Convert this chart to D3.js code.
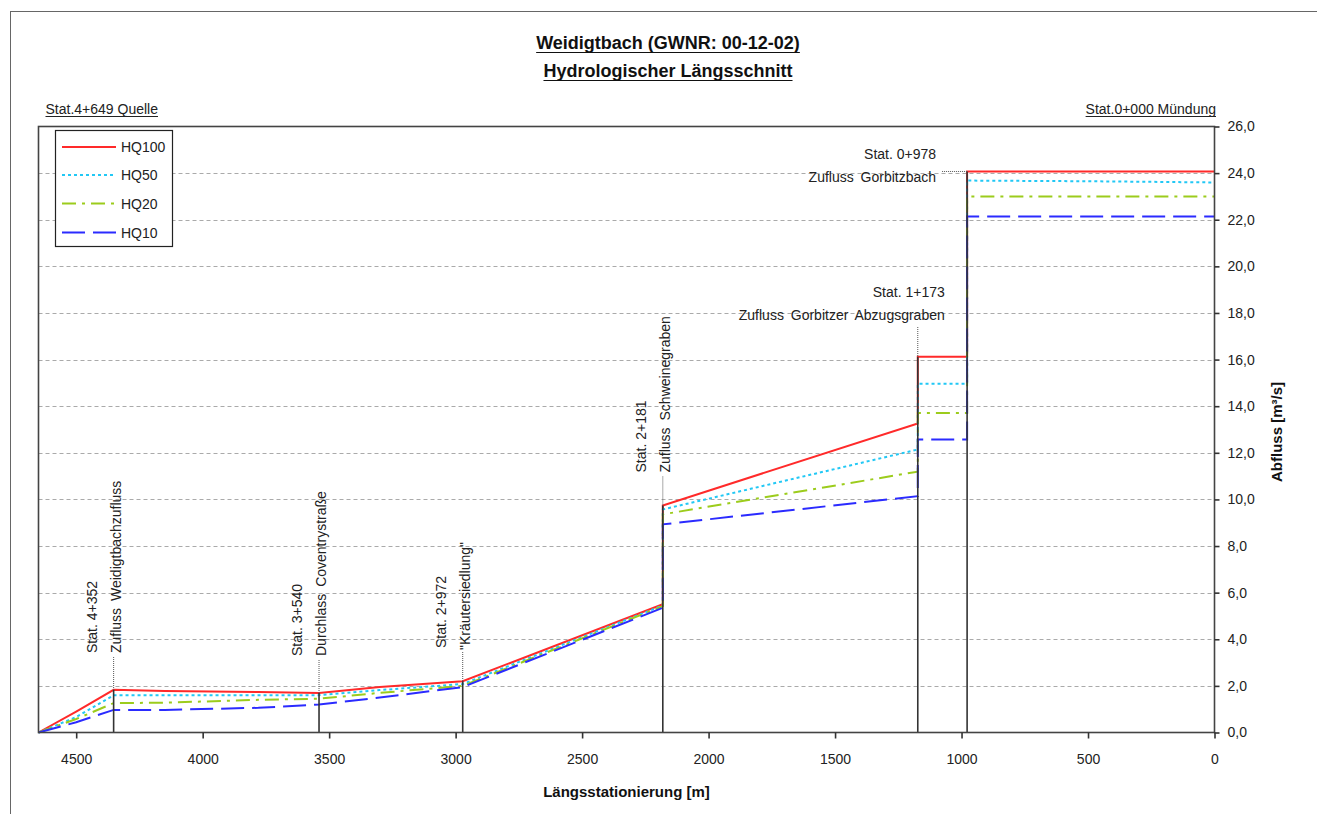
<!DOCTYPE html>
<html>
<head>
<meta charset="utf-8">
<script src="https://cdn.jsdelivr.net/npm/d3@7"></script>
<style>
  html, body { margin: 0; padding: 0; background: #fff; }
  svg { display: block; font-family: "Liberation Sans", Arial, sans-serif; }
</style>
</head>
<body>
<svg id="chart" width="1317" height="814"></svg>
<script>
// ---------------- data ----------------
const titleLines = ["Weidigtbach (GWNR: 00-12-02)", "Hydrologischer Längsschnitt"];
const sourceLabel = "Stat.4+649 Quelle";
const mouthLabel = "Stat.0+000 Mündung";
const xTitle = "Längsstationierung [m]";
const yTitle = "Abfluss [m³/s]";

const stationDomain = [4649, 0];
const flowDomain = [0, 26];
const xTicks = [4500, 4000, 3500, 3000, 2500, 2000, 1500, 1000, 500, 0];
const yTicks = [0, 2, 4, 6, 8, 10, 12, 14, 16, 18, 20, 22, 24, 26];

const stations = [4649, 4500, 4352, 4150, 3780, 3540, 3300, 2972, 2181, 2181, 1173, 1173, 978, 978, 490, 0];
const hq100 = [0, 0.90, 1.83, 1.78, 1.74, 1.70, 1.95, 2.20, 5.50, 9.74, 13.26, 16.12, 16.12, 24.07, 24.07, 24.07];
const hq50  = [0, 0.66, 1.60, 1.60, 1.60, 1.60, 1.82, 2.08, 5.45, 9.57, 12.14, 14.96, 14.96, 23.68, 23.65, 23.60];
const hq20  = [0, 0.58, 1.26, 1.28, 1.40, 1.45, 1.70, 2.00, 5.42, 9.36, 11.19, 13.71, 13.71, 23.00, 23.00, 23.00];
const hq10  = [0, 0.44, 0.97, 0.97, 1.06, 1.20, 1.50, 1.95, 5.35, 8.93, 10.14, 12.57, 12.57, 22.14, 22.14, 22.14];

const seriesNames = ["HQ100", "HQ50", "HQ20", "HQ10"];
const seriesValues = [hq100, hq50, hq20, hq10];

// tributaries / landmarks
const markerStations = [4352, 3540, 2972, 2181, 1173, 978];
const markerStatLabels = ["Stat. 4+352", "Stat. 3+540", "Stat. 2+972", "Stat. 2+181", "Stat. 1+173", "Stat. 0+978"];
const markerNameLabels = ["Zufluss Weidigtbachzufluss", "Durchlass Coventrystraße", "\"Kräutersiedlung\"", "Zufluss Schweinegraben", "Zufluss Gorbitzer Abzugsgraben", "Zufluss Gorbitzbach"];

// ---------------- styles ----------------
const seriesStyles = [
  { color: "#ff2a2a", dash: null },
  { color: "#22c8f5", dash: "3,3" },
  { color: "#9ccc1c", dash: "14,6,3,6" },
  { color: "#2b2bff", dash: "23,8" }
];

const svg = d3.select("#chart");
const W = 1317, H = 814;
const plot = { left: 38.5, right: 1214.5, top: 126.5, bottom: 732.5 };

const x = d3.scaleLinear().domain(stationDomain).range([plot.left, plot.right]);
const y = d3.scaleLinear().domain(flowDomain).range([plot.bottom, plot.top]);

// outer frame
svg.append("rect").attr("x", 10.5).attr("y", 11.5).attr("width", 1400).attr("height", 900)
  .attr("fill", "#fff").attr("stroke", "#666").attr("stroke-width", 1);

// titles
function underlined(textSel, gap) {
  const node = textSel.node();
  const bb = node.getBBox();
  const len = node.getComputedTextLength();
  const anchor = textSel.attr("text-anchor") || "start";
  const tx = +textSel.attr("x"), ty = +textSel.attr("y");
  let x0 = tx;
  if (anchor === "middle") x0 = tx - len / 2;
  if (anchor === "end") x0 = tx - len;
  svg.append("line").attr("x1", x0).attr("x2", x0 + len)
    .attr("y1", ty + gap).attr("y2", ty + gap)
    .attr("stroke", textSel.attr("fill") || "#000").attr("stroke-width", 1.2);
}
const t1 = svg.append("text").attr("x", 668).attr("y", 49).attr("text-anchor", "middle")
  .attr("font-size", 18).attr("font-weight", "bold").attr("fill", "#111").text(titleLines[0]);
underlined(t1, 3.5);
const t2 = svg.append("text").attr("x", 668).attr("y", 77).attr("text-anchor", "middle")
  .attr("font-size", 18).attr("font-weight", "bold").attr("fill", "#111").text(titleLines[1]);
underlined(t2, 3.5);

const s1 = svg.append("text").attr("x", 45.5).attr("y", 113.5).attr("font-size", 14)
  .attr("fill", "#222").text(sourceLabel);
underlined(s1, 3);
const s2 = svg.append("text").attr("x", 1216).attr("y", 113.5).attr("font-size", 14)
  .attr("text-anchor", "end").attr("fill", "#222").text(mouthLabel);
underlined(s2, 3);

// gridlines
svg.append("g").selectAll("line").data(yTicks.filter(v => v > flowDomain[0] && v < flowDomain[1]))
  .join("line")
  .attr("x1", plot.left).attr("x2", plot.right)
  .attr("y1", d => Math.round(y(d)) + 0.5).attr("y2", d => Math.round(y(d)) + 0.5)
  .attr("stroke", "#aaa").attr("stroke-width", 1).attr("stroke-dasharray", "4,3");

// series
const line = d3.line().x(d => x(d[0])).y(d => y(d[1]));
seriesValues.forEach((vals, i) => {
  const pts = stations.map((s, k) => [s, vals[k]]);
  svg.append("path").datum(pts).attr("d", line)
    .attr("fill", "none").attr("stroke", seriesStyles[i].color)
    .attr("stroke-width", 2)
    .attr("stroke-dasharray", seriesStyles[i].dash);
});

// vertical marker lines (from 0 to highest discharge at that station)
function topAt(st) {
  let m = 0;
  stations.forEach((s, k) => { if (s === st) m = Math.max(m, hq100[k]); });
  return m;
}
const markerG = svg.append("g");
markerStations.forEach(st => {
  markerG.append("line").attr("x1", x(st)).attr("x2", x(st))
    .attr("y1", y(0)).attr("y2", y(topAt(st)))
    .attr("stroke", "#333").attr("stroke-width", 1.6);
});

// rotated annotations for the first four markers
const rotBottom = [653, 656, 648, 472.5];
const annoFont = 14;
for (let i = 0; i < 4; i++) {
  const st = markerStations[i];
  const lx = x(st);
  const statX = lx - 22, nameX = lx + 2;
  svg.append("text").attr("font-size", annoFont).attr("fill", "#222")
    .attr("transform", `translate(${statX},${rotBottom[i]}) rotate(-90)`)
    .attr("dy", "0.36em").text(markerStatLabels[i]);
  svg.append("text").attr("font-size", annoFont).attr("fill", "#222").attr("word-spacing", 3)
    .attr("transform", `translate(${nameX},${rotBottom[i] + (i === 2 ? 2 : 0)}) rotate(-90)`)
    .attr("dy", "0.36em").text(markerNameLabels[i]);
  svg.append("line").attr("x1", lx).attr("x2", lx)
    .attr("y1", rotBottom[i] + 4).attr("y2", y(topAt(st)))
    .attr("stroke", "#555").attr("stroke-width", 1).attr("stroke-dasharray", "1,1");
}

// Stat. 1+173
{
  const st = markerStations[4];
  const lx = x(st);
  svg.append("text").attr("x", lx + 27).attr("y", 291.5).attr("dy", "0.36em")
    .attr("text-anchor", "end").attr("font-size", annoFont).attr("fill", "#222").text(markerStatLabels[4]);
  svg.append("text").attr("x", lx + 27).attr("y", 315).attr("dy", "0.36em").attr("word-spacing", 3)
    .attr("text-anchor", "end").attr("font-size", annoFont).attr("fill", "#222").text(markerNameLabels[4]);
  svg.append("line").attr("x1", lx).attr("x2", lx).attr("y1", 327).attr("y2", y(topAt(st)))
    .attr("stroke", "#555").attr("stroke-width", 1).attr("stroke-dasharray", "1,1");
}
// Stat. 0+978
{
  const st = markerStations[5];
  const lx = x(st);
  svg.append("text").attr("x", lx - 31).attr("y", 153.5).attr("dy", "0.36em")
    .attr("text-anchor", "end").attr("font-size", annoFont).attr("fill", "#222").text(markerStatLabels[5]);
  svg.append("text").attr("x", lx - 31).attr("y", 177).attr("dy", "0.36em").attr("word-spacing", 3)
    .attr("text-anchor", "end").attr("font-size", annoFont).attr("fill", "#222").text(markerNameLabels[5]);
  svg.append("line").attr("x1", lx - 25).attr("x2", lx).attr("y1", y(topAt(st))).attr("y2", y(topAt(st)))
    .attr("stroke", "#555").attr("stroke-width", 1).attr("stroke-dasharray", "1,1");
}

// plot border
svg.append("rect").attr("x", plot.left).attr("y", plot.top)
  .attr("width", plot.right - plot.left).attr("height", plot.bottom - plot.top)
  .attr("fill", "none").attr("stroke", "#444").attr("stroke-width", 1.6);

// axes
const xAxis = d3.axisBottom(x).tickValues(xTicks).tickFormat(d3.format("d"))
  .tickSize(6).tickPadding(16);
const gx = svg.append("g").attr("transform", `translate(0,${plot.bottom})`).call(xAxis);
gx.select(".domain").remove();
gx.selectAll(".tick line").attr("stroke", "#333").attr("stroke-width", 1.6);
gx.selectAll(".tick text").attr("font-size", 14).attr("fill", "#222")
  .attr("font-family", "Liberation Sans, Arial, sans-serif");

const yFmt = d => d3.format(".1f")(d).replace(".", ",");
const yAxis = d3.axisRight(y).tickValues(yTicks).tickFormat(yFmt).tickSize(5).tickPadding(8);
const gy = svg.append("g").attr("transform", `translate(${plot.right},0)`).call(yAxis);
gy.select(".domain").remove();
gy.selectAll(".tick line").attr("stroke", "#333").attr("stroke-width", 1.6);
gy.selectAll(".tick text").attr("font-size", 14).attr("fill", "#222")
  .attr("font-family", "Liberation Sans, Arial, sans-serif");

// axis titles
svg.append("text").attr("x", (plot.left + plot.right) / 2).attr("y", 797)
  .attr("text-anchor", "middle").attr("font-size", 15).attr("font-weight", "bold")
  .attr("fill", "#111").text(xTitle);
svg.append("text").attr("transform", `translate(1277,432) rotate(-90)`)
  .attr("text-anchor", "middle").attr("dy", "0.36em").attr("font-size", 15).attr("font-weight", "bold")
  .attr("fill", "#111").text(yTitle);

// legend
const lg = svg.append("g");
lg.append("rect").attr("x", 55.5).attr("y", 130.5).attr("width", 117).attr("height", 116)
  .attr("fill", "#fff").attr("stroke", "#222").attr("stroke-width", 1.2);
const legendY = [147, 175, 203.5, 232.5];
seriesNames.forEach((name, i) => {
  lg.append("line").attr("x1", 62).attr("x2", 116).attr("y1", legendY[i]).attr("y2", legendY[i])
    .attr("stroke", seriesStyles[i].color).attr("stroke-width", 2)
    .attr("stroke-dasharray", seriesStyles[i].dash);
  lg.append("text").attr("x", 121).attr("y", legendY[i]).attr("dy", "0.36em")
    .attr("font-size", 14).attr("fill", "#222").text(name);
});
</script>
</body>
</html>
